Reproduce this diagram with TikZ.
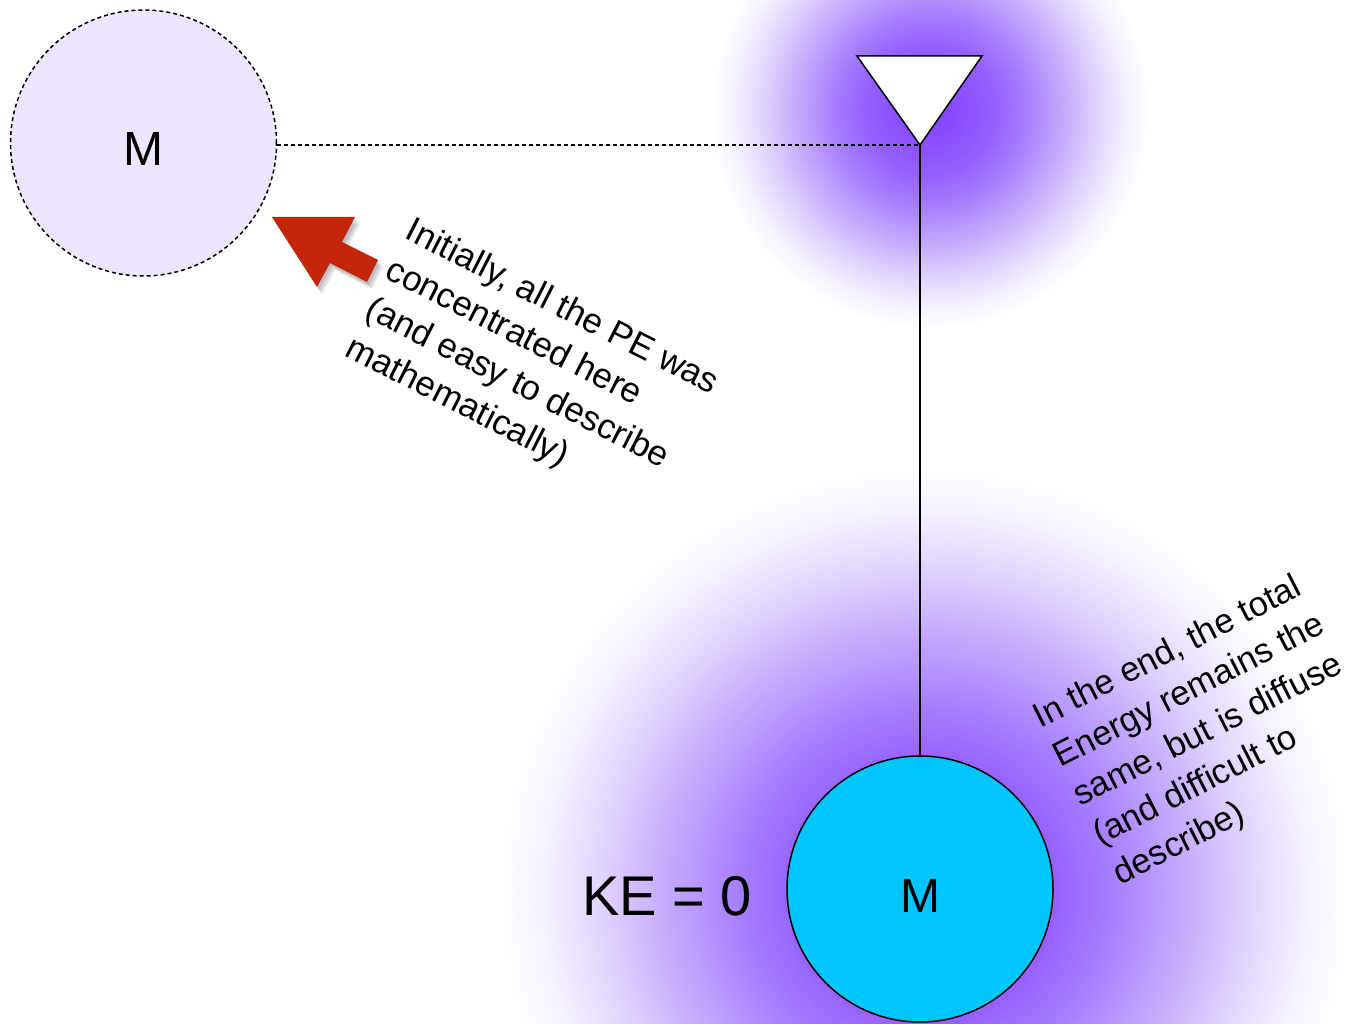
\documentclass[tikz,border=0pt]{standalone}
\usepackage{fontspec}
\setmainfont{Liberation Sans}
\definecolor{g0}{HTML}{8040FF}
\definecolor{g1}{HTML}{9560FF}
\definecolor{g2}{HTML}{A67FFF}
\definecolor{g3}{HTML}{C3A8FD}
\definecolor{g4}{HTML}{E0D3FE}
\definecolor{g5}{HTML}{F6F2FF}
\definecolor{ghostfill}{HTML}{EEE6FF}
\definecolor{massfill}{HTML}{00C6FF}
\definecolor{arrowred}{HTML}{C4260A}
\pgfdeclareradialshading{glow}{\pgfpoint{0bp}{0bp}}{color(0bp)=(g0);color(7.5bp)=(g1);color(11bp)=(g2);color(15bp)=(g3);color(19bp)=(g4);color(22.5bp)=(g5);color(25bp)=(white);color(50bp)=(white)}
\begin{document}
\begin{tikzpicture}[x=1pt,y=-1pt,
  mass/.style={circle, draw, line width=1.5pt, minimum size=266pt, inner sep=0pt,
    font=\fontsize{48}{48}\selectfont, text height=46pt},
  ghost/.style={mass, dash pattern=on 4pt off 3pt, fill=ghostfill},
  solidmass/.style={mass, fill=massfill},
  dotline/.style={line width=1.5pt, dash pattern=on 4pt off 3pt},
  rope/.style={line width=1.5pt},
  note/.style={align=left, font=\fontsize{35}{44}\selectfont, inner sep=0pt, anchor=north west},
  bigtext/.style={font=\fontsize{56}{56}\selectfont, inner sep=0pt}]
\useasboundingbox (0,0) rectangle (1345,1024);
\fill[white] (0,0) rectangle (1345,1024);
\begin{scope}
  \clip (0,0) rectangle (1345,1024);
  \shade[shading=glow] (930,110) circle (220);
  \shade[shading=glow] (925,892) circle (425);
\end{scope}
\coordinate (pivot) at (920,145);
\node[ghost] (m1) at (143.5,143) {M};
\node[solidmass] (m2) at (920,889) {M};
\draw[dotline] (m1.east |- pivot) -- (pivot);
\draw[rope] (pivot) -- (m2.north);
\draw[line width=1.5pt, fill=white, line join=miter] (pivot) -- ++(-63,-89) -- ++(125,0) -- cycle;
% red arrow with soft shadow
\coordinate (arrtip) at (272,217);
\foreach \s in {2,3.5,5}{
  \fill[black, opacity=0.09, shift={(\s,1.4*\s)}] (arrtip) -- (355,217) -- (342,242) -- (378,260) -- (367,282) -- (330,263) -- (317,287) -- cycle;
}
\fill[arrowred] (arrtip) -- (355,217) -- (342,242) -- (378,260) -- (367,282) -- (330,263) -- (317,287) -- cycle;
\node[note, rotate=-27] (pe) at (415,215) {Initially, all the PE was\\concentrated here\\(and easy to describe\\mathematically)};
\node[note, rotate=27, font=\fontsize{34.5}{44}\selectfont] (te) at (1029,706) {In the end, the total\\Energy remains the\\same, but is diffuse\\(and difficult to\\describe)};
\node[bigtext] (ke) at (667,896) {KE = 0};
\end{tikzpicture}
\end{document}
